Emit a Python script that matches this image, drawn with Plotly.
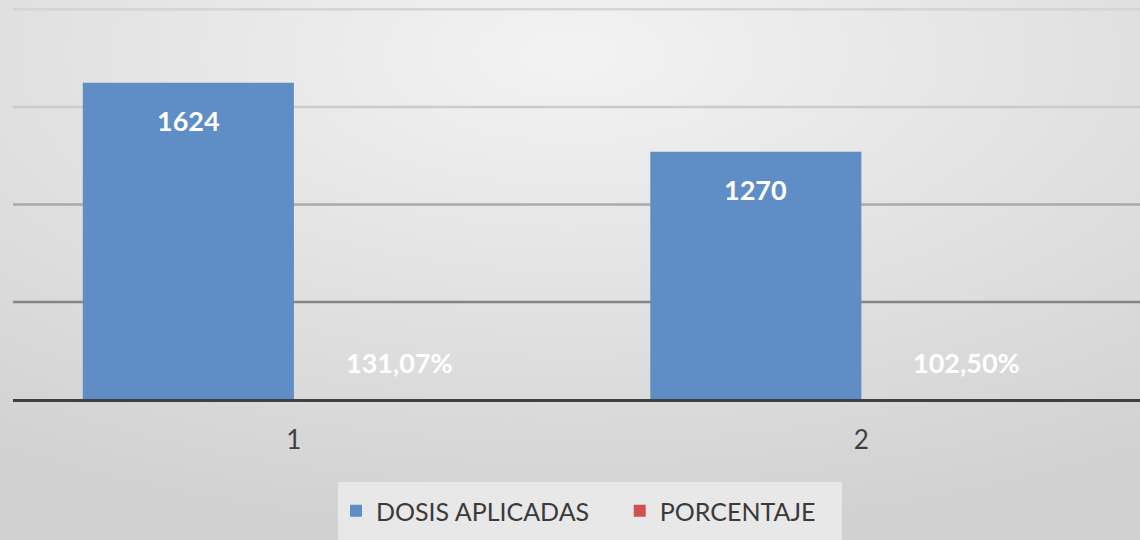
import base64
import plotly.graph_objects as go

categories = ["1", "2"]
dosis = [1624, 1270]
porcentaje = [1.3107, 1.025]
grid_values = [500, 1000, 1500, 2000]
grid_colors = ["#858585", "#aaaaaa", "#cbcbcb", "#d4d4d4"]

BLUE = "#5f8ec6"
RED = "#cf5252"
FONT = "Lato"
W, H = 1140, 540
ML, MB = 13, 141
PW, PH = W - ML, H - MB

# soft radial background (Excel-like gradient fill)
svg = (
    f'<svg xmlns="http://www.w3.org/2000/svg" width="{W}" height="{H}">'
    '<defs><radialGradient id="g" cx="0.5" cy="0.1" r="0.9">'
    '<stop offset="0" stop-color="#f3f3f3"/><stop offset="1" stop-color="#d1d1d1"/>'
    '</radialGradient></defs>'
    f'<rect width="{W}" height="{H}" fill="url(#g)"/></svg>'
)
bg_src = "data:image/svg+xml;base64," + base64.b64encode(svg.encode()).decode()

fig = go.Figure()
fig.add_trace(go.Bar(name="DOSIS APLICADAS", x=categories, y=dosis,
                     marker=dict(color=BLUE, line=dict(width=0))))
fig.add_trace(go.Bar(name="PORCENTAJE", x=categories, y=porcentaje,
                     marker=dict(color=RED, line=dict(width=0))))

for gv, gc in zip(grid_values, grid_colors):
    fig.add_shape(type="line", xref="paper", x0=0, x1=1, yref="y", y0=gv, y1=gv,
                  line=dict(color=gc, width=2.5), layer="below")

# legend background panel
fig.add_shape(type="rect", xref="paper", yref="paper",
              x0=(338 - ML) / PW, x1=(842 - ML) / PW,
              y0=(PH - 545) / PH, y1=(PH - 482) / PH,
              fillcolor="#e8e8e8", line=dict(width=0), layer="below")

fig.add_layout_image(dict(source=bg_src, xref="paper", yref="paper",
                          x=-ML / PW, y=1, sizex=W / PW, sizey=H / PH,
                          xanchor="left", yanchor="top", sizing="stretch",
                          layer="below"))

half_bar = 105.5
for i, v in enumerate(dosis):
    fig.add_annotation(x=i, y=v, text=f"<b>{v}</b>", showarrow=False,
                       xshift=-half_bar, yshift=-38, yanchor="middle",
                       font=dict(family=FONT, size=27, color="white"))
for i, v in enumerate(porcentaje):
    txt = f"{v*100:.2f}%".replace(".", ",")
    fig.add_annotation(x=i, yref="y domain", y=0, text=f"<b>{txt}</b>", showarrow=False,
                       xshift=half_bar, yshift=37, yanchor="middle",
                       font=dict(family=FONT, size=27, color="white"))

fig.update_layout(
    width=W, height=H,
    margin=dict(l=ML, r=0, t=0, b=MB),
    paper_bgcolor="#e2e2e2",
    plot_bgcolor="rgba(0,0,0,0)",
    barmode="group",
    bargap=0.256,
    bargroupgap=0,
    showlegend=True,
    legend=dict(orientation="h", xref="container", yref="container",
                x=336 / W, xanchor="left", y=1 - 488 / H, yanchor="top",
                bgcolor="rgba(0,0,0,0)", font=dict(family=FONT, size=25, color="#3a3a3a"),
                traceorder="normal", itemclick=False),
    xaxis=dict(type="category", range=[-0.495, 1.491], showgrid=False,
               showline=True, linecolor="#404040", linewidth=3,
               ticks="", tickfont=dict(family=FONT, size=26, color="#404040"),
               ticklabelstandoff=16),
    yaxis=dict(range=[2.5, 2048], showgrid=False, zeroline=False,
               showticklabels=False, ticks=""),
)
# extra trailing spaces widen the first legend entry like the original
fig.data[0].name = "DOSIS APLICADAS" + "\u00a0" * 4
fig.data[1].name = "PORCENTAJE" + "\u00a0" * 2

fig.write_html("out.html", config={"displayModeBar": False},
               post_script="document.body.style.margin='0';")
